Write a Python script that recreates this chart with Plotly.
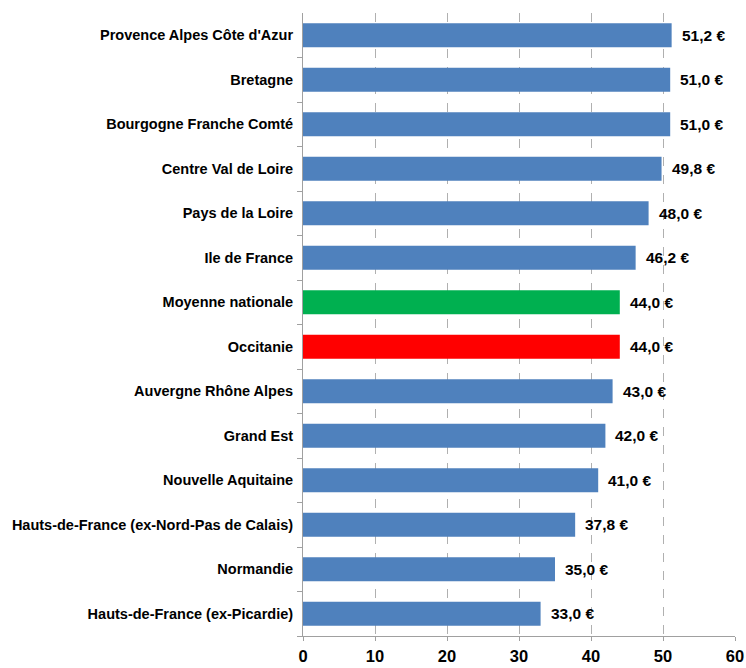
import plotly.graph_objects as go

regions = [
    "Provence Alpes Côte d'Azur",
    "Bretagne",
    "Bourgogne Franche Comté",
    "Centre Val de Loire",
    "Pays de la Loire",
    "Ile de France",
    "Moyenne nationale",
    "Occitanie",
    "Auvergne Rhône Alpes",
    "Grand Est",
    "Nouvelle Aquitaine",
    "Hauts-de-France (ex-Nord-Pas de Calais)",
    "Normandie",
    "Hauts-de-France (ex-Picardie)",
]
values = [51.2, 51.0, 51.0, 49.8, 48.0, 46.2, 44.0, 44.0, 43.0, 42.0, 41.0, 37.8, 35.0, 33.0]
x_ticks = [0, 10, 20, 30, 40, 50, 60]

BLUE, GREEN, RED = "#4F81BD", "#00B050", "#FF0000"
colors = [GREEN if r == "Moyenne nationale" else RED if r == "Occitanie" else BLUE for r in regions]
labels = [f"{v:.1f}".replace(".", ",") + " €" for v in values]

FONT = "Liberation Sans, Arial, sans-serif"

fig = go.Figure(go.Bar(
    x=values, y=regions, orientation="h",
    marker=dict(color=colors, line=dict(width=0)),
))

for r, v, t in zip(regions, values, labels):
    fig.add_annotation(
        x=v, y=r, text=f"<b>{t}</b>", showarrow=False,
        xanchor="left", yanchor="middle", xshift=8,
        font=dict(family=FONT, size=15.5, color="black"),
    )

fig.update_layout(
    width=746, height=668,
    margin=dict(l=303, r=11, t=13, b=32),
    paper_bgcolor="white", plot_bgcolor="white",
    bargap=0.46, showlegend=False,
    font=dict(family=FONT, color="black"),
)
fig.update_xaxes(
    range=[0, 60], tickvals=x_ticks, ticktext=[f"<b>{t}</b>" for t in x_ticks],
    tickfont=dict(size=16.5),
    showgrid=True, gridcolor="#B0B0B0", griddash="dash", gridwidth=1,
    showline=True, linecolor="#A0A0A0", linewidth=1,
    ticks="outside", ticklen=4, tickcolor="#A0A0A0",
    ticklabelstandoff=1,
    zeroline=False, fixedrange=True, automargin=False,
)
fig.update_yaxes(
    type="category", categoryorder="array", categoryarray=regions[::-1],
    tickvals=regions, ticktext=[f"<b>{r}</b>" for r in regions],
    tickfont=dict(size=14.5),
    showline=True, linecolor="#A0A0A0", linewidth=1,
    ticks="outside", ticklen=5, tickcolor="#A0A0A0", tickson="boundaries",
    ticklabelstandoff=6,
    showgrid=False, fixedrange=True, automargin=False,
)

fig.write_html("out.html")
